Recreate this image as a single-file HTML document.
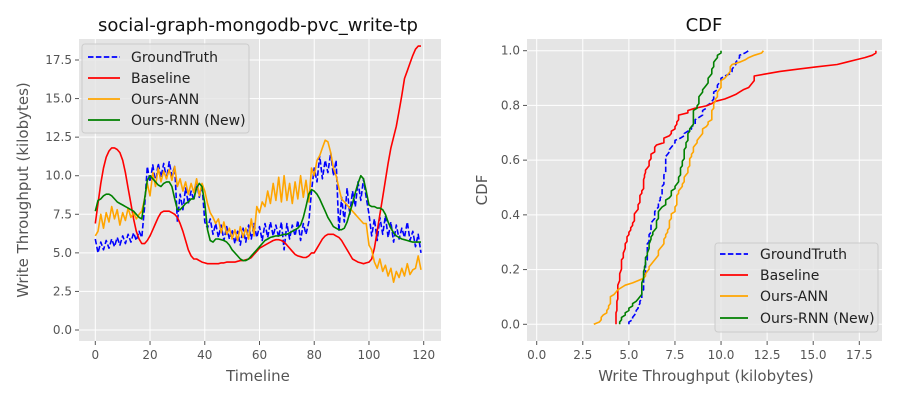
<!DOCTYPE html>
<html><head><meta charset="utf-8"><style>
body{margin:0;background:#fff;}
svg{display:block;font-family:"DejaVu Sans","Liberation Sans",sans-serif;}
</style></head><body>
<svg id="c" width="900" height="400"></svg>
<script>
const timeline = Array.from({length:120},(_, i)=>i);
const groundTruth = [5.9,5.0,5.7,5.2,5.8,5.3,5.9,5.4,6.0,5.5,6.1,5.6,6.2,5.7,6.3,5.8,6.4,6.0,
8.0,10.6,
9.6,10.7,9.5,10.8,9.9,10.8,9.8,10.9,10.0,10.6,
7.0,8.8,7.8,9.2,8.2,9.0,8.4,9.6,8.6,9.4,
7.0,6.6,7.2,6.2,6.9,6.0,6.8,5.8,6.7,5.9,
6.5,5.6,6.4,5.5,6.6,5.7,6.8,5.9,6.9,6.0,
6.7,5.8,6.9,6.0,7.0,6.1,6.8,6.0,7.0,5.2,
6.9,5.9,6.8,6.1,7.1,5.8,6.9,6.2,7.0,9.0,
10.5,9.6,11.3,9.8,11.0,10.2,11.5,10.0,11.0,6.4,
8.6,7.0,9.2,7.5,9.0,8.0,9.6,8.4,9.8,8.6,
7.5,6.1,7.2,5.8,7.3,6.2,7.4,6.0,7.0,5.7,
6.8,5.9,6.6,6.0,7.0,5.8,6.4,5.4,6.2,5.0];
const baseline = [6.9,8.2,9.5,10.5,11.2,11.6,11.8,11.8,11.7,11.5,
11.0,10.2,9.2,8.2,7.2,6.4,5.9,5.6,5.6,5.8,
6.1,6.5,6.9,7.3,7.6,7.7,7.7,7.7,7.6,7.5,
7.3,6.9,6.4,5.8,5.2,4.8,4.6,4.6,4.5,4.4,
4.35,4.3,4.3,4.3,4.3,4.3,4.35,4.35,4.4,4.4,
4.4,4.4,4.45,4.5,4.5,4.55,4.6,4.7,4.9,5.1,
5.3,5.4,5.5,5.6,5.7,5.8,5.85,5.85,5.8,5.7,
5.5,5.3,5.1,4.9,4.8,4.75,4.7,4.7,4.8,5.0,
5.0,5.3,5.6,5.9,6.1,6.2,6.2,6.2,6.1,6.0,
5.8,5.5,5.2,4.9,4.6,4.5,4.4,4.35,4.3,4.35,
4.4,4.6,5.3,6.4,7.5,8.6,9.7,10.8,11.8,12.5,
13.2,14.2,15.2,16.3,16.8,17.3,17.8,18.2,18.4,18.4];
const oursANN = [6.1,6.4,7.5,6.6,7.6,7.0,8.0,7.2,7.8,6.8,
7.6,7.1,7.9,7.3,7.6,7.2,7.5,7.7,8.5,9.5,
8.7,10.2,9.3,10.5,9.6,10.3,9.8,10.4,9.7,10.6,
9.3,9.8,9.0,9.6,8.8,9.5,8.9,9.8,8.7,9.5,
9.0,8.2,7.6,7.3,6.9,7.2,6.3,7.0,6.2,6.6,
5.9,6.5,5.8,6.7,6.0,6.6,5.9,7.2,6.1,8.0,
7.6,8.3,8.0,9.0,8.2,9.5,8.4,9.9,8.3,10.0,
8.4,9.5,8.2,9.6,8.5,10.0,8.6,9.7,8.3,10.5,
10.0,11.0,11.3,11.8,12.3,12.2,11.5,10.5,10.0,9.2,
8.5,8.3,8.1,7.9,7.7,7.5,7.3,7.1,6.9,6.9,
5.5,5.2,4.4,4.0,4.6,3.8,4.2,3.5,4.0,3.1,
3.8,3.4,4.0,3.5,4.3,3.6,3.9,4.0,4.8,3.9];
const oursRNN = [7.7,8.4,8.5,8.7,8.8,8.8,8.7,8.5,8.3,8.2,
8.1,8.0,7.9,7.8,7.7,7.5,7.3,7.2,8.5,9.7,
10.0,9.8,9.6,9.4,9.3,9.5,9.6,9.6,9.3,8.5,
7.8,7.8,8.0,8.2,8.3,8.5,8.5,9.2,9.5,9.3,
8.2,6.5,5.8,5.7,5.9,5.9,5.85,5.8,5.7,5.5,
5.2,5.0,4.8,4.6,4.5,4.5,4.6,4.8,5.0,5.2,
5.4,5.6,5.8,5.9,6.0,6.05,6.1,6.1,6.15,6.2,
6.2,6.3,6.4,6.5,6.6,6.8,7.3,8.0,8.8,9.1,
9.0,8.8,8.5,8.1,7.7,7.3,7.0,6.7,6.6,6.5,
6.5,6.6,7.0,7.6,8.2,8.9,9.5,10.0,9.8,9.0,
8.1,8.0,8.0,7.9,7.9,7.8,7.5,7.0,6.6,6.3,
6.1,6.0,5.9,5.85,5.8,5.75,5.7,5.7,5.7,5.7];
const seriesNames = ["GroundTruth","Baseline","Ours-ANN","Ours-RNN (New)"];
const leftYTicks = [0,2.5,5,7.5,10,12.5,15,17.5];
const leftXTicks = [0,20,40,60,80,100,120];
const rightXTicks = [0,2.5,5,7.5,10,12.5,15,17.5];
const rightYTicks = [0,0.2,0.4,0.6,0.8,1.0];

const NS="http://www.w3.org/2000/svg";
const svg=document.getElementById('c');
function mk(tag,attrs,parent){const e=document.createElementNS(NS,tag);for(const k in attrs)e.setAttribute(k,attrs[k]);(parent||svg).appendChild(e);return e;}
const colors=["#0000ff","#ff0000","#ffa500","#008000"];
const data=[groundTruth,baseline,oursANN,oursRNN];

const lx=v=>95.3+(v-0)*(423.7-95.3)/120;
const ly=v=>330-v*(330-60)/17.5;
const rx=v=>536.7+v*(859.3-536.7)/17.5;
const ry=v=>324.3-v*(324.3-50.7);

function axes(x0,y0,x1,y1,name){
  const r=mk('rect',{x:x0,y:y0,width:x1-x0,height:y1-y0,fill:'#e5e5e5'});
  
  
}
axes(79,39,441,341,'left-plot-area');
axes(527,39,882,341,'right-plot-area');

function gridAndTicks(xt,yt,fx,fy,x0,y0,x1,y1,fmtX,fmtY,prefix){
  xt.forEach(t=>{const x=fx(t);
    const g=mk('line',{x1:x,x2:x,y1:y0,y2:y1,stroke:'#fff','stroke-width':1});
    
    
    mk('line',{x1:x,x2:x,y1:y1,y2:y1+4,stroke:'#555'});
    const tx=mk('text',{x:x,y:y1+18,'text-anchor':'middle','font-size':12,fill:'#555'});tx.textContent=fmtX(t);
    
    
  });
  yt.forEach(t=>{const y=fy(t);
    const g=mk('line',{x1:x0,x2:x1,y1:y,y2:y,stroke:'#fff','stroke-width':1});
    
    
    mk('line',{x1:x0-4,x2:x0,y1:y,y2:y,stroke:'#555'});
    const tx=mk('text',{x:x0-7,y:y+4,'text-anchor':'end','font-size':12,fill:'#555'});tx.textContent=fmtY(t);
    
    
  });
}
gridAndTicks(leftXTicks,leftYTicks,lx,ly,79,39,441,341,t=>String(t),t=>t.toFixed(1),'left');
gridAndTicks(rightXTicks,rightYTicks,rx,ry,527,39,882,341,t=>t.toFixed(1),t=>t.toFixed(1),'right');

data.forEach((s,i)=>{
  const d=s.map((v,j)=>(j?'L':'M')+lx(timeline[j]).toFixed(1)+','+ly(v).toFixed(1)).join('');
  const p=mk('path',{d:d,fill:'none',stroke:colors[i],'stroke-width':1.6,'stroke-dasharray':i===0?'5.5,2.4':'none','stroke-linejoin':'round'});
  
  
});
data.forEach((s,i)=>{
  const sorted=s.slice().sort((a,b)=>a-b);const n=sorted.length;
  const d=sorted.map((v,j)=>(j?'L':'M')+rx(v).toFixed(1)+','+ry(j/(n-1)).toFixed(1)).join('');
  const p=mk('path',{d:d,fill:'none',stroke:colors[i],'stroke-width':1.6,'stroke-dasharray':i===0?'5.5,2.4':'none','stroke-linejoin':'round'});
  
  
});

function legend(x,y,w,h,ys,lx0,lx1,tx,name){
  const b=mk('rect',{x:x,y:y,width:w,height:h,rx:3,fill:'#e5e5e5','fill-opacity':0.8,stroke:'#ccc'});
  
  
  seriesNames.forEach((nm,i)=>{
    const l=mk('line',{x1:lx0,x2:lx1,y1:ys[i],y2:ys[i],stroke:colors[i],'stroke-width':1.8,'stroke-dasharray':i===0?'5.5,2.4':'none'});
    
    
    const t=mk('text',{x:tx,y:ys[i]+5,'font-size':14,fill:'#222'});t.textContent=nm;
    
    
  });
}
legend(82,44,167,89,[57,78,99,120],88,120,131,'left-legend');
legend(715,243,163,89,[254,275,296,318],720,748,760,'right-legend');

function label(txt,x,y,size,name,rot){
  const t=mk('text',{x:x,y:y,'text-anchor':'middle','font-size':size,fill:rot===undefined&&size>16?'#111':'#555'});
  if(rot!==undefined)t.setAttribute('transform','rotate(-90 '+x+' '+y+')');
  t.textContent=txt;
  
  
}
label('social-graph-mongodb-pvc_write-tp',258,31,18,'left-title');
label('CDF',704,31,18,'right-title');
label('Timeline',258,381,15,'left-x-axis-title');
label('Write Throughput (kilobytes)',706,381,15,'right-x-axis-title');
label('Write Throughput (kilobytes)',28,190,15,'left-y-axis-title',1);
label('CDF',487,190,15,'right-y-axis-title',1);
</script>
</body></html>
